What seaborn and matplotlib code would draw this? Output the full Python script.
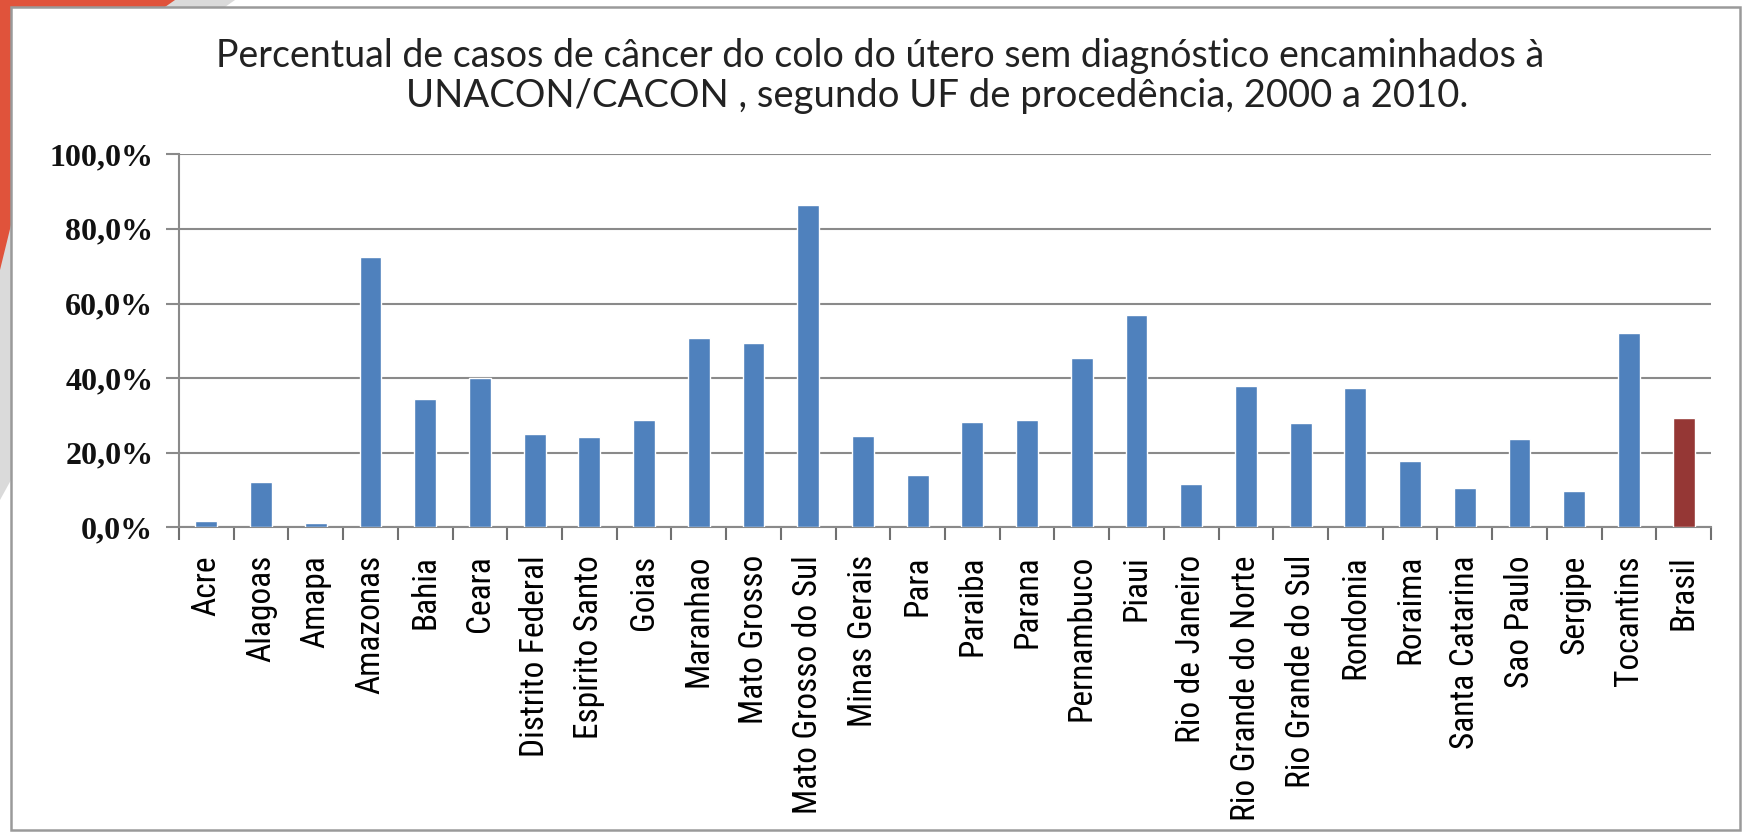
import matplotlib
matplotlib.use("Agg")
import matplotlib.pyplot as plt
from matplotlib import font_manager
from matplotlib.patches import Polygon, Rectangle
from matplotlib.ticker import FixedLocator, FuncFormatter
import seaborn as sns

# Data: percentage of cervical cancer cases arriving without diagnosis, by state
estados = [
    "Acre", "Alagoas", "Amapa", "Amazonas", "Bahia", "Ceara", "Distrito Federal",
    "Espirito Santo", "Goias", "Maranhao", "Mato Grosso", "Mato Grosso do Sul",
    "Minas Gerais", "Para", "Paraiba", "Parana", "Pernambuco", "Piaui",
    "Rio de Janeiro", "Rio Grande do Norte", "Rio Grande do Sul", "Rondonia",
    "Roraima", "Santa Catarina", "Sao Paulo", "Sergipe", "Tocantins", "Brasil",
]
percentuais = [
    1.8, 12.2, 1.2, 72.5, 34.5, 39.9, 25.0,
    24.1, 28.8, 50.7, 49.3, 86.4,
    24.5, 14.0, 28.3, 28.8, 45.5, 56.9,
    11.6, 37.9, 27.9, 37.4,
    17.9, 10.6, 23.6, 9.7, 52.2, 29.2,
]
yticks = [0, 20, 40, 60, 80, 100]
titulo_l1 = "Percentual de casos de câncer do colo do útero sem diagnóstico encaminhados à"
titulo_l2 = "UNACON/CACON , segundo UF de procedência, 2000 a 2010."

AZUL = "#4F81BD"
VERMELHO = "#953735"
cores = [VERMELHO if e == "Brasil" else AZUL for e in estados]

installed = {f.name for f in font_manager.fontManager.ttflist}
def pick(*names):
    for n in names:
        if n in installed:
            return n
    return "DejaVu Sans"

narrow = pick("Liberation Sans Narrow", "Roboto Condensed", "DejaVu Sans")
serif = pick("Liberation Serif", "DejaVu Serif")
title_font = pick("Lato", "Open Sans", "DejaVu Sans")

sns.set_theme(style="white")

W, H = 1744, 832
fig = plt.figure(figsize=(W / 100, H / 100), dpi=100)
fig.patch.set_facecolor("white")

def px(x, y):
    return (x / W, 1 - y / H)

# slide decoration in the upper-left corner
fig.patches.append(Polygon([px(0, 0), px(235, 0), px(225, 7), px(11, 7), px(11, 480), px(0, 500)],
                           closed=True, transform=fig.transFigure, facecolor="#DADADA",
                           edgecolor="none", zorder=0))
fig.patches.append(Polygon([px(0, 0), px(175, 0), px(165, 7), px(11, 7), px(11, 225), px(0, 270)],
                           closed=True, transform=fig.transFigure, facecolor="#E0533B",
                           edgecolor="none", zorder=1))
# chart frame
fig.patches.append(Rectangle(px(11, 830), (1740 - 11) / W, (830 - 7) / H,
                             transform=fig.transFigure, facecolor="none",
                             edgecolor="#9A9A9A", linewidth=1.8, zorder=2))

ax = fig.add_axes([179 / W, 1 - 527.3 / H, (1711 - 179) / W, (527.3 - 154.3) / H])
ax.set_facecolor("none")

sns.barplot(x=estados, y=percentuais, hue=estados, palette=cores, legend=False,
            width=0.4, saturation=1, ax=ax, zorder=3)

ax.set_xlim(-0.5, len(estados) - 0.5)
ax.set_ylim(0, 100)
ax.yaxis.set_major_locator(FixedLocator(yticks))
ax.yaxis.set_major_formatter(FuncFormatter(lambda v, p: f"{v:.1f}%".replace(".", ",")))
ax.yaxis.grid(True, color="#8A8A8A", linewidth=1.5, zorder=0)
ax.xaxis.grid(False)
ax.set_axisbelow(True)

for s in ["top", "right"]:
    ax.spines[s].set_visible(False)
for s in ["left", "bottom"]:
    ax.spines[s].set_color("#8A8A8A")
    ax.spines[s].set_linewidth(1.5)

# category separators on the x axis
ax.set_xticks([i - 0.5 for i in range(len(estados) + 1)], minor=True)
ax.tick_params(axis="x", which="minor", direction="out", length=9.5, width=1.5,
               color="#707070", bottom=True)
ax.tick_params(axis="x", which="major", length=0, pad=20)
ax.tick_params(axis="y", which="major", direction="out", length=9.5, width=1.5,
               color="#8A8A8A", left=True, pad=9)

ax.set_xticks(range(len(estados)))
ax.set_xticklabels(estados, rotation=90, fontsize=24, family=narrow, color="black",
                   va="top", ha="center")
for lab in ax.get_yticklabels():
    lab.set_fontsize(23)
    lab.set_family(serif)
    lab.set_fontweight("bold")
    lab.set_color("#111111")
ax.set_xlabel("")
ax.set_ylabel("")

fig.text(*px(880, 67), titulo_l1, ha="center", va="baseline", fontsize=27,
         family=title_font, color="#222222")
fig.text(*px(937, 107), titulo_l2, ha="center", va="baseline", fontsize=27.5,
         family=title_font, color="#222222")

fig.savefig("out.png", dpi=100, facecolor="white")
